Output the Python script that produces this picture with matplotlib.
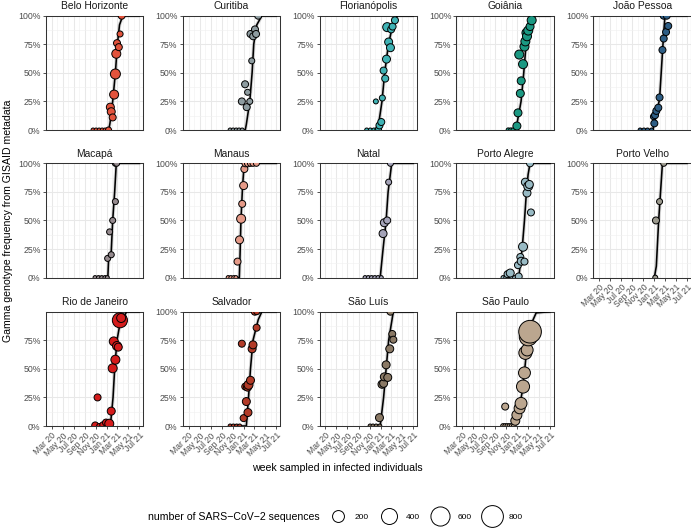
import numpy as np
import matplotlib
matplotlib.use("Agg")
import matplotlib.pyplot as plt
import matplotlib.dates as mdates
from matplotlib.lines import Line2D

plt.rcParams['font.family'] = ['Liberation Sans', 'DejaVu Sans']

# (week, Gamma frequency, number of sequences)
belo_horizonte_pts = [
    ("2020-10-17", 0.0, 8), ("2020-11-03", 0.0, 8), ("2020-11-20", 0.0, 8), ("2020-12-07", 0.0, 8),
    ("2020-12-23", 0.0, 8), ("2021-01-11", 0.0, 33), ("2021-01-21", 0.20, 73), ("2021-01-26", 0.16, 73),
    ("2021-02-03", 0.11, 51), ("2021-02-11", 0.31, 100), ("2021-02-18", 0.49, 131), ("2021-02-23", 0.667, 100),
    ("2021-02-27", 0.76, 51), ("2021-03-09", 0.725, 51), ("2021-03-16", 0.84, 33), ("2021-03-25", 1.0, 51)]
curitiba_pts = [
    ("2020-10-18", 0.0, 8), ("2020-11-04", 0.0, 8), ("2020-11-21", 0.0, 8), ("2020-12-07", 0.0, 8),
    ("2020-12-24", 0.0, 8), ("2020-12-22", 0.25, 51), ("2021-01-09", 0.40, 51), ("2021-01-18", 0.20, 51),
    ("2021-01-23", 0.33, 33), ("2021-02-04", 0.25, 33), ("2021-02-08", 0.84, 51), ("2021-02-15", 0.605, 33),
    ("2021-02-23", 0.82, 51), ("2021-03-05", 0.88, 51), ("2021-03-11", 0.84, 51), ("2021-03-23", 1.0, 51)]
florianopolis_pts = [
    ("2020-10-16", 0.0, 8), ("2020-11-05", 0.0, 8), ("2020-11-25", 0.0, 8), ("2020-12-11", 0.0, 8),
    ("2020-12-06", 0.25, 18), ("2020-12-21", 0.01, 33), ("2020-12-26", 0.04, 51), ("2021-01-05", 0.07, 51),
    ("2021-01-11", 0.28, 33), ("2021-01-18", 0.52, 51), ("2021-01-27", 0.45, 51), ("2021-02-03", 0.62, 73),
    ("2021-02-07", 0.90, 100), ("2021-02-15", 0.77, 73), ("2021-02-25", 0.72, 73), ("2021-03-01", 0.88, 51),
    ("2021-03-09", 0.905, 51), ("2021-03-22", 0.96, 51)]
goiania_pts = [
    ("2020-11-11", 0.0, 10), ("2020-11-25", 0.0, 10), ("2020-12-08", 0.0, 10), ("2020-12-29", 0.035, 73),
    ("2021-01-04", 0.15, 73), ("2021-01-11", 0.66, 100), ("2021-01-17", 0.32, 73), ("2021-01-22", 0.43, 73),
    ("2021-02-01", 0.576, 100), ("2021-02-09", 0.73, 100), ("2021-02-14", 0.775, 100), ("2021-02-20", 0.85, 100),
    ("2021-02-23", 0.82, 100), ("2021-03-02", 0.87, 100), ("2021-03-12", 0.905, 73), ("2021-03-21", 0.96, 100)]
joao_pessoa_pts = [
    ("2020-10-14", 0.0, 8), ("2020-11-04", 0.0, 8), ("2020-11-24", 0.0, 8), ("2020-12-17", 0.0, 8),
    ("2020-12-27", 0.117, 33), ("2021-01-01", 0.058, 51), ("2021-01-05", 0.13, 51), ("2021-01-12", 0.167, 51),
    ("2021-01-23", 0.195, 51), ("2021-01-30", 0.285, 51), ("2021-02-15", 0.70, 51), ("2021-02-22", 0.80, 51),
    ("2021-03-07", 0.857, 51), ("2021-03-19", 0.91, 51), ("2021-02-22", 1.0, 51), ("2021-03-11", 1.0, 51)]
macapa_pts = [
    ("2020-10-28", 0.0, 8), ("2020-11-16", 0.0, 8), ("2020-12-04", 0.0, 8), ("2020-12-22", 0.0, 8),
    ("2021-01-04", 0.0, 8), ("2021-01-06", 0.168, 33), ("2021-01-17", 0.40, 33), ("2021-01-26", 0.20, 33),
    ("2021-02-03", 0.50, 33), ("2021-02-18", 0.665, 33), ("2021-02-18", 1.0, 33), ("2021-02-25", 1.0, 33)]
manaus_pts = [
    ("2020-10-07", 0.0, 8), ("2020-10-22", 0.0, 8), ("2020-11-07", 0.0, 8), ("2020-11-19", 0.0, 8),
    ("2020-11-28", 0.14, 51), ("2020-12-09", 0.33, 73), ("2020-12-18", 0.515, 100), ("2020-12-24", 0.645, 51),
    ("2021-01-01", 0.805, 73), ("2021-01-05", 0.95, 51), ("2021-01-11", 1.0, 51), ("2021-01-25", 1.0, 51),
    ("2021-02-08", 1.0, 33), ("2021-02-22", 1.0, 33), ("2021-03-13", 1.0, 33)]
natal_pts = [
    ("2020-10-07", 0.0, 8), ("2020-10-25", 0.0, 8), ("2020-11-12", 0.0, 8), ("2020-11-30", 0.0, 8),
    ("2020-12-18", 0.0, 8), ("2021-01-05", 0.0, 8), ("2021-01-15", 0.385, 73), ("2021-01-22", 0.48, 73),
    ("2021-02-07", 0.50, 51), ("2021-02-15", 0.835, 33), ("2021-02-25", 1.0, 33)]
porto_alegre_pts = [
    ("2020-10-13", 0.0, 8), ("2020-10-28", 0.0, 8), ("2020-12-01", 0.0, 8), ("2020-12-16", 0.0, 8),
    ("2020-11-07", 0.03, 51), ("2020-11-22", 0.04, 73), ("2021-01-04", 0.109, 51), ("2021-01-08", 0.01, 51),
    ("2021-01-17", 0.18, 51), ("2021-01-22", 0.143, 73), ("2021-02-01", 0.27, 100), ("2021-02-09", 0.14, 51),
    ("2021-02-14", 0.835, 73), ("2021-02-23", 0.74, 73), ("2021-03-02", 0.80, 100), ("2021-03-08", 0.815, 73),
    ("2021-03-12", 1.0, 51), ("2021-03-17", 0.57, 51)]
porto_velho_pts = [
    ("2021-01-06", 0.0, 18), ("2021-01-10", 0.50, 51), ("2021-01-30", 0.665, 33), ("2021-02-22", 1.0, 33)]
rio_de_janeiro_pts = [
    ("2020-10-29", 0.005, 51), ("2020-11-11", 0.25, 51), ("2020-11-20", 0.0, 18), ("2020-12-10", 0.01, 33),
    ("2020-12-28", 0.03, 51), ("2021-01-15", 0.02, 100), ("2021-01-26", 0.13, 73), ("2021-02-03", 0.505, 100),
    ("2021-02-09", 0.74, 100), ("2021-02-18", 0.58, 100), ("2021-02-27", 0.70, 100), ("2021-03-06", 0.69, 73),
    ("2021-03-15", 0.925, 350), ("2021-03-22", 0.945, 100)]
salvador_pts = [
    ("2020-10-18", 0.0, 8), ("2020-11-05", 0.0, 8), ("2020-11-23", 0.0, 8), ("2020-12-10", 0.0, 8),
    ("2020-12-22", 0.72, 51), ("2021-01-01", 0.069, 51), ("2021-01-10", 0.345, 51), ("2021-01-16", 0.214, 73),
    ("2021-01-23", 0.34, 73), ("2021-01-25", 0.118, 73), ("2021-01-28", 0.36, 100), ("2021-02-08", 0.40, 73),
    ("2021-02-17", 0.675, 73), ("2021-02-22", 0.71, 73), ("2021-03-04", 1.0, 51), ("2021-03-14", 0.86, 51),
    ("2021-03-15", 1.0, 33)]
sao_luis_pts = [
    ("2020-11-04", 0.0, 8), ("2020-11-20", 0.0, 8), ("2020-12-08", 0.0, 8), ("2020-12-28", 0.0, 8),
    ("2020-12-26", 0.073, 73), ("2021-01-09", 0.365, 73), ("2021-01-18", 0.373, 73), ("2021-01-22", 0.43, 73),
    ("2021-02-01", 0.535, 73), ("2021-02-10", 0.425, 73), ("2021-02-21", 0.675, 73), ("2021-02-25", 1.0, 51),
    ("2021-03-07", 0.805, 51), ("2021-03-13", 0.755, 51)]
sao_paulo_pts = [
    ("2020-10-13", 0.0, 15), ("2020-10-25", 0.0, 15), ("2020-11-06", 0.0, 15), ("2020-11-18", 0.0, 15),
    ("2020-11-30", 0.0, 15), ("2020-12-12", 0.0, 15), ("2020-10-25", 0.17, 51), ("2020-12-20", 0.046, 100),
    ("2020-12-29", 0.096, 131), ("2021-01-13", 0.155, 165), ("2021-01-21", 0.198, 200), ("2021-02-01", 0.345, 250),
    ("2021-02-09", 0.465, 200), ("2021-02-14", 0.64, 250), ("2021-02-24", 0.665, 200), ("2021-03-02", 0.78, 520),
    ("2021-03-12", 0.825, 870)]

# fitted logistic curves, read as knots off the picture
belo_horizonte_fit = [("2020-10-17", 0), ("2021-01-12", 0), ("2021-01-19", 0.06), ("2021-02-03", 0.25),
                      ("2021-02-18", 0.5), ("2021-03-01", 0.75), ("2021-03-13", 0.92), ("2021-03-31", 1.0),
                      ("2021-07-01", 1.0)]
curitiba_fit = [("2020-10-18", 0), ("2021-01-10", 0), ("2021-01-16", 0.05), ("2021-02-04", 0.25),
                ("2021-02-17", 0.5), ("2021-02-26", 0.75), ("2021-03-15", 0.92), ("2021-04-12", 1.0),
                ("2021-07-01", 1.0)]
florianopolis_fit = [("2020-10-16", 0), ("2020-12-12", 0), ("2020-12-22", 0.06), ("2021-01-09", 0.25),
                     ("2021-01-24", 0.5), ("2021-02-14", 0.75), ("2021-03-07", 0.9), ("2021-03-22", 0.97),
                     ("2021-04-05", 1.0), ("2021-07-01", 1.0)]
goiania_fit = [("2020-11-11", 0), ("2020-12-20", 0), ("2020-12-30", 0.06), ("2021-01-21", 0.25),
               ("2021-02-05", 0.5), ("2021-02-18", 0.75), ("2021-03-04", 0.9), ("2021-03-21", 0.97),
               ("2021-04-05", 1.0), ("2021-07-01", 1.0)]
joao_pessoa_fit = [("2020-10-14", 0), ("2020-12-24", 0), ("2021-01-30", 0.27), ("2021-02-12", 0.6),
                   ("2021-02-22", 0.85), ("2021-03-01", 1.0), ("2021-07-01", 1.0)]
macapa_fit = [("2020-10-28", 0), ("2021-01-07", 0), ("2021-01-11", 0.15), ("2021-01-26", 0.23),
              ("2021-02-03", 0.5), ("2021-02-14", 0.75), ("2021-02-23", 1.0), ("2021-07-01", 1.0)]
manaus_fit = [("2020-10-07", 0), ("2020-12-08", 0), ("2020-12-12", 0.2), ("2020-12-17", 0.5),
              ("2020-12-26", 0.8), ("2021-01-02", 0.95), ("2021-01-20", 1.0), ("2021-07-01", 1.0)]
natal_fit = [("2020-10-07", 0), ("2020-12-30", 0), ("2021-01-15", 0.25), ("2021-02-01", 0.5),
             ("2021-02-12", 0.75), ("2021-03-04", 1.0), ("2021-07-01", 1.0)]
porto_alegre_fit = [("2020-10-13", 0), ("2021-01-08", 0), ("2021-01-27", 0.25), ("2021-02-09", 0.5),
                    ("2021-02-20", 0.75), ("2021-03-01", 0.9), ("2021-03-12", 1.0), ("2021-07-01", 1.0)]
porto_velho_fit = [("2021-01-01", 0), ("2021-01-12", 0.1), ("2021-01-25", 0.5), ("2021-02-15", 1.0),
                   ("2021-07-01", 1.0)]
rio_de_janeiro_fit = [("2020-10-29", 0), ("2021-01-21", 0), ("2021-02-05", 0.25), ("2021-02-14", 0.5),
                      ("2021-02-27", 0.75), ("2021-03-16", 0.9), ("2021-04-22", 1.0), ("2021-07-01", 1.0)]
salvador_fit = [("2020-10-18", 0), ("2021-01-16", 0), ("2021-01-28", 0.25), ("2021-02-08", 0.5),
                ("2021-02-22", 0.75), ("2021-03-23", 0.93), ("2021-04-12", 1.0), ("2021-07-01", 1.0)]
sao_luis_fit = [("2020-11-04", 0), ("2020-12-30", 0), ("2021-01-18", 0.25), ("2021-02-01", 0.5),
                ("2021-02-15", 0.75), ("2021-03-13", 1.0), ("2021-07-01", 1.0)]
sao_paulo_fit = [("2020-10-13", 0), ("2020-12-10", 0), ("2021-01-08", 0.14), ("2021-01-26", 0.285),
                 ("2021-02-09", 0.475), ("2021-02-23", 0.69), ("2021-03-12", 0.87), ("2021-04-15", 0.99),
                 ("2021-07-01", 1.0)]

cities = ["Belo Horizonte", "Curitiba", "Florianópolis", "Goiânia", "João Pessoa",
          "Macapá", "Manaus", "Natal", "Porto Alegre", "Porto Velho",
          "Rio de Janeiro", "Salvador", "São Luís", "São Paulo"]
city_pts = [belo_horizonte_pts, curitiba_pts, florianopolis_pts, goiania_pts, joao_pessoa_pts,
            macapa_pts, manaus_pts, natal_pts, porto_alegre_pts, porto_velho_pts,
            rio_de_janeiro_pts, salvador_pts, sao_luis_pts, sao_paulo_pts]
city_fit = [belo_horizonte_fit, curitiba_fit, florianopolis_fit, goiania_fit, joao_pessoa_fit,
            macapa_fit, manaus_fit, natal_fit, porto_alegre_fit, porto_velho_fit,
            rio_de_janeiro_fit, salvador_fit, sao_luis_fit, sao_paulo_fit]
city_colors = ["#E2533C", "#8E9CA0", "#3FB3B5", "#1B9882", "#2E5E85",
               "#958A8E", "#E59A88", "#A4A3B8", "#98BAC4", "#9C9A8E",
               "#D41C1C", "#B23B28", "#8A7965", "#BBA68F"]
legend_counts = [200, 400, 600, 800]
y_breaks = [0, 0.25, 0.5, 0.75, 1.0]
y_labels = ["0%", "25%", "50%", "75%", "100%"]
no_top_label = ["Rio de Janeiro", "São Paulo"]
bottom_panels = ["Porto Velho", "Rio de Janeiro", "Salvador", "São Luís", "São Paulo"]


def marker_px(n):
    return 2 + 21 * np.sqrt(np.asarray(n, dtype=float) / 900)


W, H = 691, 528
fig = plt.figure(figsize=(W / 100, H / 100), dpi=100)

col_left = [45.7 + 136.9 * c for c in range(5)]
row_top = [15.7, 163.3, 311.7]
pw, ph = 97.6, 114.3
xlim = (np.datetime64("2020-01-28"), np.datetime64("2021-07-23"))

for i, name in enumerate(cities):
    r, c = divmod(i, 5)
    ax = fig.add_axes([col_left[c] / W, 1 - (row_top[r] + ph) / H, pw / W, ph / H])
    ax.set_axisbelow(True)

    fit = city_fit[i]
    fx = np.array([d for d, _ in fit], dtype="datetime64[D]")
    fy = [v for _, v in fit]
    ax.plot(fx, fy, color="#AAAAAA", lw=2.6, alpha=0.45, zorder=2, solid_capstyle="round")
    ax.plot(fx, fy, color="black", lw=1.15, zorder=3)

    pts = city_pts[i]
    px = np.array([d for d, _, _ in pts], dtype="datetime64[D]")
    py = [v for _, v, _ in pts]
    pn = [n for _, _, n in pts]
    ax.scatter(px, py, s=(marker_px(pn) * 0.72) ** 2, c=city_colors[i],
               edgecolors="black", linewidths=0.7, zorder=4)

    ax.set_xlim(*xlim)
    ax.set_ylim(0, 1)
    ax.xaxis.set_major_locator(mdates.MonthLocator(bymonth=[1, 3, 5, 7, 9, 11]))
    ax.xaxis.set_minor_locator(mdates.MonthLocator(bymonth=[2, 4, 6, 8, 10, 12]))
    ax.xaxis.set_major_formatter(mdates.DateFormatter("%b %y"))
    if name in no_top_label:
        ax.set_yticks(y_breaks[:-1], y_labels[:-1])
    else:
        ax.set_yticks(y_breaks, y_labels)
    ax.set_yticks([0.125, 0.375, 0.625, 0.875], minor=True)

    ax.grid(which="major", color="#E8E8E8", lw=0.75)
    ax.grid(which="minor", color="#F1F1F1", lw=0.45)
    ax.tick_params(which="minor", length=0)
    ax.tick_params(axis="y", which="major", length=2.2, width=0.6, color="#333333",
                   labelsize=6.3, labelcolor="#4D4D4D", pad=1.5)
    if name in bottom_panels:
        ax.tick_params(axis="x", which="major", length=2.2, width=0.6, color="#333333",
                       labelsize=6.2, labelcolor="#4D4D4D", pad=1.5)
        for lab in ax.get_xticklabels():
            lab.set_rotation(45)
            lab.set_ha("right")
            lab.set_va("top")
            lab.set_rotation_mode("anchor")
    else:
        ax.tick_params(axis="x", which="major", length=0, labelbottom=False)
    for sp in ax.spines.values():
        sp.set_color("#333333")
        sp.set_linewidth(0.75)
    ax.set_title(name, fontsize=7.4, pad=4.5, color="#1A1A1A")

fig.text(8 / W, 1 - 221 / H, "Gamma genotype frequency from GISAID metadata",
         rotation=90, ha="center", va="center", fontsize=7.6)
fig.text(337 / W, 1 - 468 / H, "week sampled in infected individuals",
         ha="center", va="center", fontsize=7.6)

fig.text(320 / W, 1 - 517 / H, "number of SARS\u2212CoV\u22122 sequences",
         ha="right", va="center", fontsize=7.6)
handles = [Line2D([], [], ls="", marker="o", markersize=marker_px(n) * 0.72,
                  markerfacecolor="white", markeredgecolor="black", markeredgewidth=0.7)
           for n in legend_counts]
fig.legend(handles, [str(n) for n in legend_counts], loc="center left",
           bbox_to_anchor=(328 / W, 1 - 517 / H), ncol=4, frameon=False, fontsize=6.0,
           handlelength=2.4, handletextpad=0.85, columnspacing=1.2,
           borderpad=0, borderaxespad=0)

fig.savefig("out.png", dpi=100)
